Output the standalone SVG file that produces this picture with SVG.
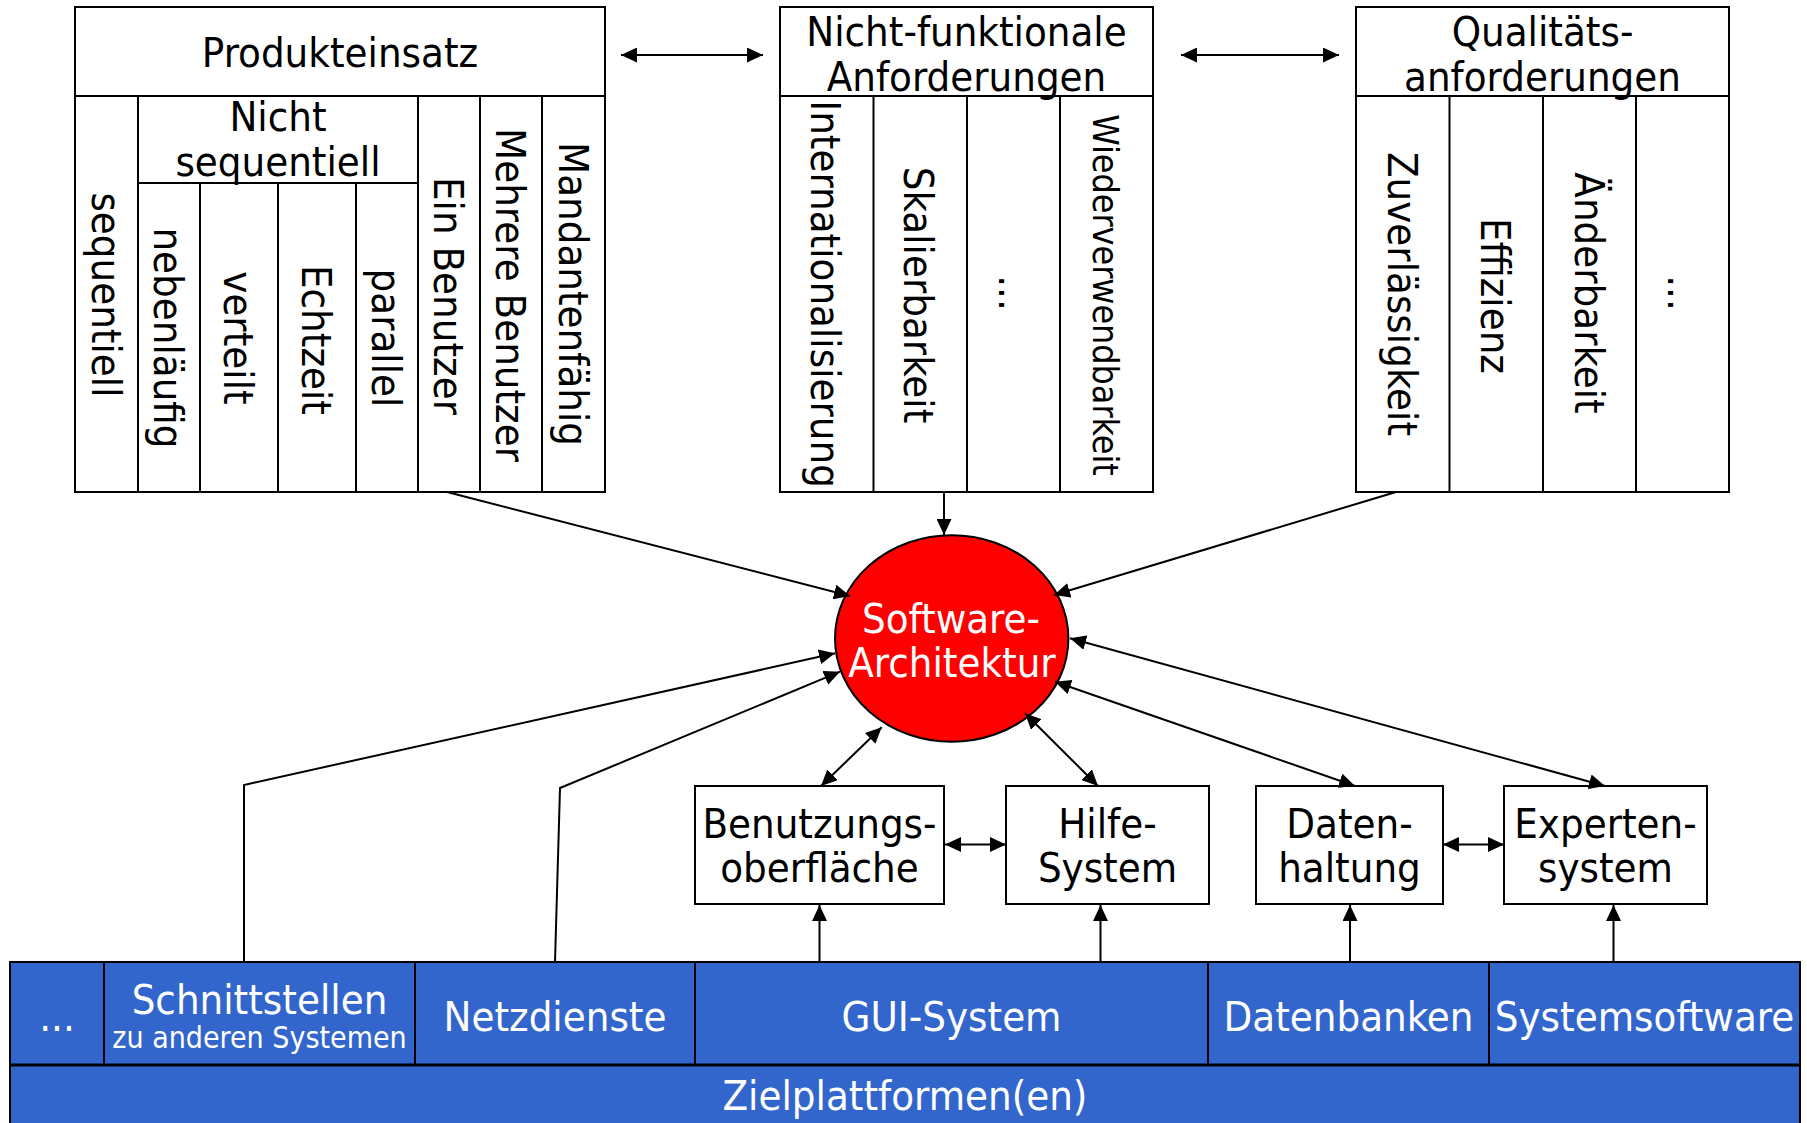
<svg xmlns="http://www.w3.org/2000/svg" width="1807" height="1123" viewBox="0 0 1807 1123">
<defs>
<style>
.box{fill:#fff;stroke:#000;stroke-width:2}
.ln{fill:none;stroke:#000;stroke-width:2}
.t{font-family:"DejaVu Sans Condensed","Open Sans",sans-serif;font-size:41.5px;text-anchor:middle;fill:#000}
.w{fill:#fff}
.con{fill:none;stroke:#000;stroke-width:2}
.blue{fill:#3366CC;stroke:#000;stroke-width:2}
</style>
<marker id="ah" markerUnits="userSpaceOnUse" markerWidth="17" markerHeight="15" refX="16" refY="7.5" orient="auto-start-reverse">
<path d="M0,0 L16,7.5 L0,15 z" fill="#000"/>
</marker>
</defs>
<rect width="1807" height="1123" fill="#fff"/>

<g id="produkteinsatz">
<rect class="box" x="75" y="7" width="530" height="485"/>
<line class="ln" x1="75" y1="96" x2="605" y2="96"/>
<line class="ln" x1="138" y1="96" x2="138" y2="492"/>
<line class="ln" x1="418" y1="96" x2="418" y2="492"/>
<line class="ln" x1="480" y1="96" x2="480" y2="492"/>
<line class="ln" x1="542" y1="96" x2="542" y2="492"/>
<line class="ln" x1="138" y1="183" x2="418" y2="183"/>
<line class="ln" x1="200" y1="183" x2="200" y2="492"/>
<line class="ln" x1="278" y1="183" x2="278" y2="492"/>
<line class="ln" x1="356" y1="183" x2="356" y2="492"/>
<text class="t" x="340" y="67">Produkteinsatz</text>
<text class="t" x="278" y="131">Nicht</text>
<text class="t" x="278" y="176">sequentiell</text>
<text class="t" transform="translate(106.5,295) rotate(90)" y="15">sequentiell</text>
<text class="t" transform="translate(169,338) rotate(90)" y="15">nebenläufig</text>
<text class="t" transform="translate(239,338) rotate(90)" y="15">verteilt</text>
<text class="t" transform="translate(317,340) rotate(90)" y="15">Echtzeit</text>
<text class="t" transform="translate(387,338) rotate(90)" y="15">parallel</text>
<text class="t" transform="translate(449,296) rotate(90)" y="15">Ein Benutzer</text>
<text class="t" transform="translate(511,295) rotate(90)" y="15">Mehrere Benutzer</text>
<text class="t" transform="translate(573.5,294) rotate(90)" y="15">Mandantenfähig</text>
</g>

<g id="nichtfunktional">
<rect class="box" x="780" y="7" width="373" height="485"/>
<line class="ln" x1="780" y1="96" x2="1153" y2="96"/>
<line class="ln" x1="873.5" y1="96" x2="873.5" y2="492"/>
<line class="ln" x1="967" y1="96" x2="967" y2="492"/>
<line class="ln" x1="1060" y1="96" x2="1060" y2="492"/>
<text class="t" x="966.5" y="46">Nicht-funktionale</text>
<text class="t" x="966.5" y="91">Anforderungen</text>
<text class="t" transform="translate(827,294) rotate(90)" y="16">Internationalisierung</text>
<text class="t" transform="translate(920,295) rotate(90)" y="16">Skalierbarkeit</text>
<text class="t" transform="translate(1013.5,293) rotate(90)" y="15">...</text>
<text class="t" transform="translate(1107,295) rotate(90)" y="14" style="font-size:35.5px">Wiederverwendbarkeit</text>
</g>

<g id="qualitaet">
<rect class="box" x="1356" y="7" width="373" height="485"/>
<line class="ln" x1="1356" y1="96" x2="1729" y2="96"/>
<line class="ln" x1="1449.5" y1="96" x2="1449.5" y2="492"/>
<line class="ln" x1="1543" y1="96" x2="1543" y2="492"/>
<line class="ln" x1="1636" y1="96" x2="1636" y2="492"/>
<text class="t" x="1542.5" y="46">Qualitäts-</text>
<text class="t" x="1542.5" y="91">anforderungen</text>
<text class="t" transform="translate(1402.5,294) rotate(90)" y="15">Zuverlässigkeit</text>
<text class="t" transform="translate(1496,296) rotate(90)" y="15">Effizienz</text>
<text class="t" transform="translate(1589.5,293) rotate(90)" y="15">Änderbarkeit</text>
<text class="t" transform="translate(1682.5,293) rotate(90)" y="15">...</text>
</g>

<g id="architektur">
<ellipse cx="951.7" cy="638.5" rx="116.7" ry="103.3" fill="#FF0000" stroke="#000" stroke-width="2"/>
<text class="t w" x="951" y="633">Software-</text>
<text class="t w" x="952" y="677">Architektur</text>
</g>

<g id="benutzungsoberflaeche">
<rect class="box" x="695" y="786" width="249" height="118"/>
<text class="t" x="819.5" y="838">Benutzungs-</text>
<text class="t" x="819.5" y="882">oberfläche</text>
</g>
<g id="hilfesystem">
<rect class="box" x="1006" y="786" width="203" height="118"/>
<text class="t" x="1107.5" y="838">Hilfe-</text>
<text class="t" x="1107.5" y="882">System</text>
</g>
<g id="datenhaltung">
<rect class="box" x="1256" y="786" width="187" height="118"/>
<text class="t" x="1349.5" y="838">Daten-</text>
<text class="t" x="1349.5" y="882">haltung</text>
</g>
<g id="expertensystem">
<rect class="box" x="1504" y="786" width="203" height="118"/>
<text class="t" x="1605.5" y="838">Experten-</text>
<text class="t" x="1605.5" y="882">system</text>
</g>

<g id="plattform">
<rect class="blue" x="10" y="962" width="1790" height="170"/>
<line x1="10" y1="1065" x2="1800" y2="1065" stroke="#000" stroke-width="3"/>
<line class="ln" x1="104" y1="962" x2="104" y2="1065"/>
<line class="ln" x1="415" y1="962" x2="415" y2="1065"/>
<line class="ln" x1="695" y1="962" x2="695" y2="1065"/>
<line class="ln" x1="1208" y1="962" x2="1208" y2="1065"/>
<line class="ln" x1="1489" y1="962" x2="1489" y2="1065"/>
<text class="t w" x="57" y="1031">...</text>
<text class="t w" x="259.5" y="1014">Schnittstellen</text>
<text class="t w" x="259.5" y="1048" style="font-size:30px">zu anderen Systemen</text>
<text class="t w" x="555" y="1031">Netzdienste</text>
<text class="t w" x="951.5" y="1031">GUI-System</text>
<text class="t w" x="1348.5" y="1031">Datenbanken</text>
<text class="t w" x="1644.5" y="1031">Systemsoftware</text>
<text class="t w" x="905" y="1110">Zielplattformen(en)</text>
</g>

<g id="connectors">
<line class="con" x1="621" y1="55" x2="763" y2="55" marker-start="url(#ah)" marker-end="url(#ah)"/>
<line class="con" x1="1181" y1="55" x2="1339" y2="55" marker-start="url(#ah)" marker-end="url(#ah)"/>
<line class="con" x1="447" y1="492" x2="850" y2="596" marker-end="url(#ah)"/>
<line class="con" x1="944" y1="492" x2="944" y2="535" marker-end="url(#ah)"/>
<line class="con" x1="1396" y1="492" x2="1054" y2="595" marker-end="url(#ah)"/>
<polyline class="con" points="244,962 244,785 835,653.3" marker-end="url(#ah)"/>
<polyline class="con" points="555,962 560,788 840,671.7" marker-end="url(#ah)"/>
<line class="con" x1="821" y1="786" x2="881.7" y2="727.3" marker-start="url(#ah)" marker-end="url(#ah)"/>
<line class="con" x1="1098" y1="786" x2="1025" y2="713.3" marker-start="url(#ah)" marker-end="url(#ah)"/>
<line class="con" x1="1355" y1="786" x2="1055" y2="681.7" marker-start="url(#ah)" marker-end="url(#ah)"/>
<line class="con" x1="1605" y1="786" x2="1070" y2="638.3" marker-start="url(#ah)" marker-end="url(#ah)"/>
<line class="con" x1="945" y1="844.5" x2="1006" y2="844.5" marker-start="url(#ah)" marker-end="url(#ah)"/>
<line class="con" x1="1443" y1="844.5" x2="1504" y2="844.5" marker-start="url(#ah)" marker-end="url(#ah)"/>
<line class="con" x1="819.5" y1="962" x2="819.5" y2="905" marker-end="url(#ah)"/>
<line class="con" x1="1100.5" y1="962" x2="1100.5" y2="905" marker-end="url(#ah)"/>
<line class="con" x1="1350" y1="962" x2="1350" y2="905" marker-end="url(#ah)"/>
<line class="con" x1="1613.5" y1="962" x2="1613.5" y2="905" marker-end="url(#ah)"/>
</g>
</svg>
